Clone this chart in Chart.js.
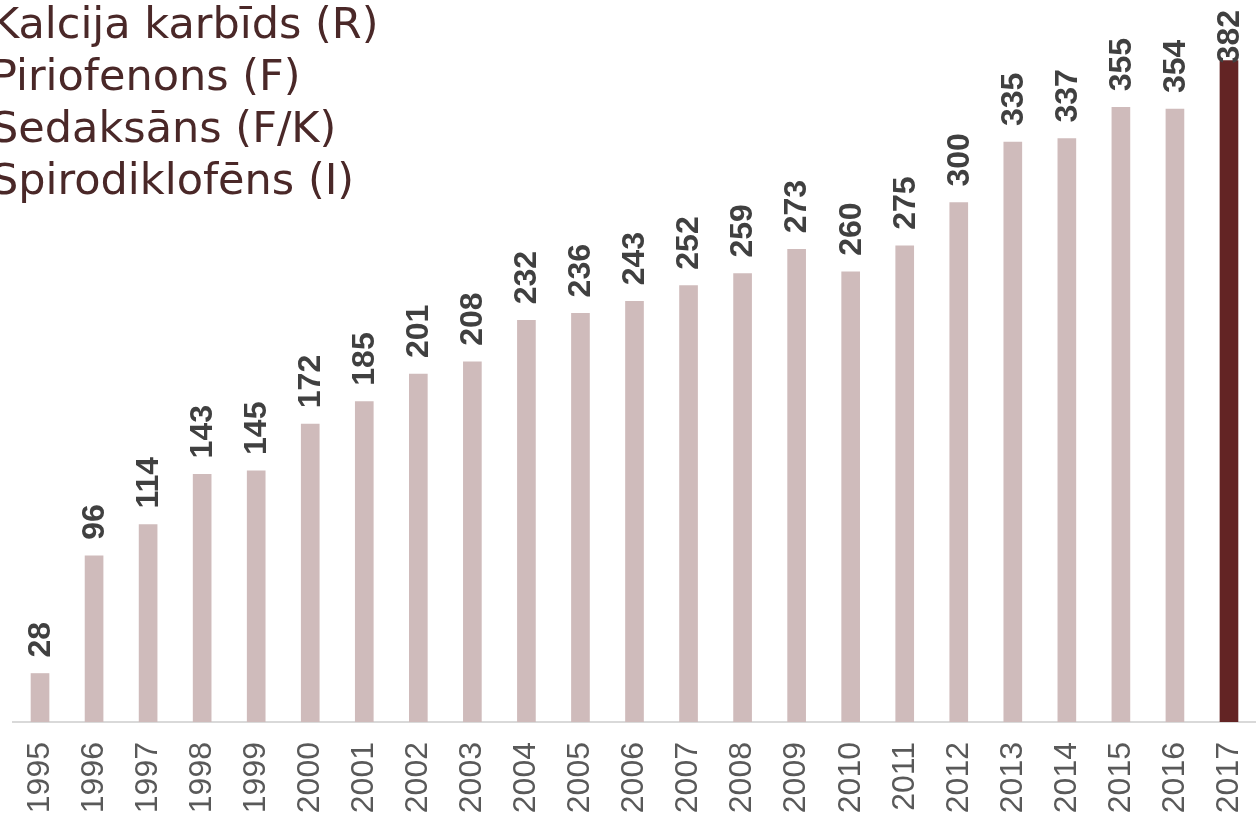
<!DOCTYPE html>
<html>
<head>
<meta charset="utf-8">
<script src="https://cdn.jsdelivr.net/npm/chart.js@4.4.1/dist/chart.umd.min.js"></script>
<style>
    html, body { margin: 0; padding: 0; background: #fff; overflow: hidden; }
    #wrap { position: relative; width: 1256px; height: 813px; }
    #notes {
        position: absolute; left: -9px; top: -3px;
        font-family: "DejaVu Sans", Verdana, sans-serif;
        font-size: 43px; line-height: 52px; color: #4a2828;
        white-space: nowrap;
    }
</style>
</head>
<body>
<div id="wrap">
    <canvas id="monGraphique"></canvas>
    <div id="notes">
        <div>Kalcija karbīds (R)</div>
        <div>Piriofenons (F)</div>
        <div>Sedaksāns (F/K)</div>
        <div>Spirodiklofēns (I)</div>
    </div>
</div>
<script>
// Données
const annees = ['1995', '1996', '1997', '1998', '1999', '2000', '2001', '2002', '2003', '2004', '2005', '2006',
    '2007', '2008', '2009', '2010', '2011', '2012', '2013', '2014', '2015', '2016', '2017'];
const valeurs = [28, 96, 114, 143, 145, 172, 185, 201, 208, 232, 236, 243,
    252, 259, 273, 260, 275, 300, 335, 337, 355, 354, 382];

const couleurClaire = '#cfbbbb';
const couleurFoncee = '#632424';
const couleurs = annees.map((a, i) => i === annees.length - 1 ? couleurFoncee : couleurClaire);

// Etiquettes de valeur verticales au-dessus des barres
const etiquettes = {
    id: 'etiquettes',
    afterDatasetsDraw(chart) {
        const ctx = chart.ctx;
        const meta = chart.getDatasetMeta(0);
        ctx.save();
        ctx.font = 'bold 32px "Liberation Sans", Arial, sans-serif';
        ctx.fillStyle = '#404040';
        ctx.textAlign = 'left';
        ctx.textBaseline = 'middle';
        meta.data.forEach(function(bar, i) {
            const txt = String(valeurs[i]);
            const w = ctx.measureText(txt).width;
            const y = Math.max(bar.y - 16, w + 10);
            ctx.save();
            ctx.translate(bar.x, y);
            ctx.rotate(-Math.PI / 2);
            ctx.fillText(txt, 0, 1);
            ctx.restore();
        });
        ctx.restore();
    }
};

const canvas = document.getElementById('monGraphique');
new Chart(canvas.getContext('2d'), {
    type: 'bar',
    data: {
        labels: annees,
        datasets: [{
            data: valeurs,
            backgroundColor: couleurs,
            barThickness: 18
        }]
    },
    options: {
        responsive: true,
        maintainAspectRatio: false,
        animation: false,
        layout: { padding: { left: 13, right: 0, top: 0, bottom: 0 } },
        plugins: {
            legend: { display: false },
            tooltip: { enabled: false }
        },
        scales: {
            x: {
                afterFit: function(scale) {
                    scale.height = 91;
                    scale.paddingLeft = 0;
                    scale.paddingRight = 0;
                },
                grid: { display: false, drawTicks: false },
                border: { display: true, color: '#d9d9d9', width: 2 },
                ticks: {
                    minRotation: 90,
                    maxRotation: 90,
                    padding: 20,
                    color: '#595959',
                    font: { family: '"Liberation Sans", Arial, sans-serif', size: 32 }
                }
            },
            y: {
                display: false,
                min: 0,
                max: 417
            }
        }
    },
    plugins: [etiquettes]
});
</script>
</body>
</html>
